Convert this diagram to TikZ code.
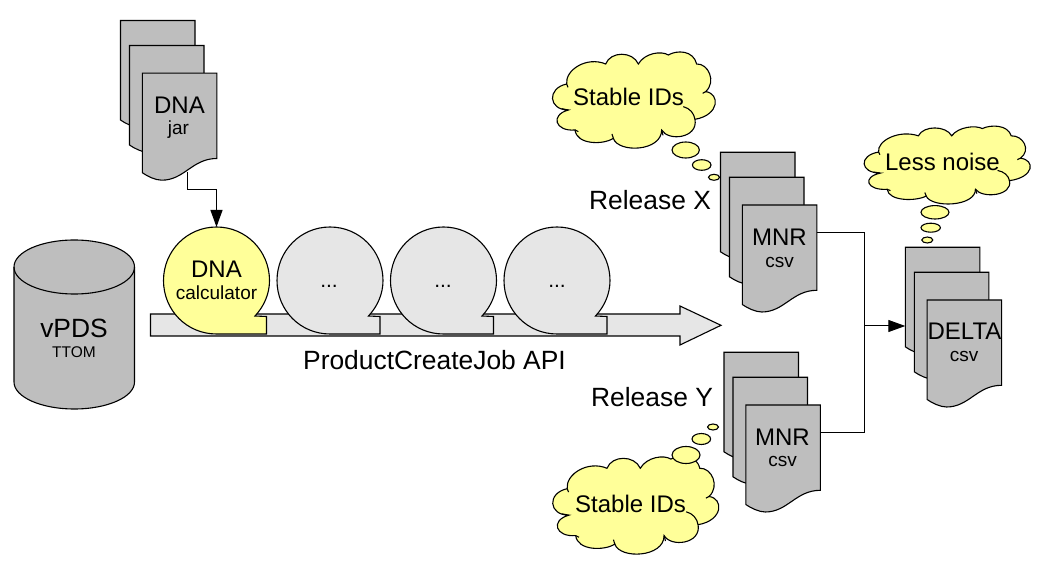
\documentclass[tikz,border=0pt]{standalone}
\usepackage{fontspec}
\setmainfont{Liberation Sans}
\usetikzlibrary{arrows.meta,calc}
\definecolor{docgrey}{HTML}{BEBEBE}
\definecolor{lightgrey}{HTML}{E6E6E6}
\definecolor{paleyellow}{HTML}{FFFF99}
\newcommand\fsize[1]{\fontsize{#1}{#1}\selectfont}
\tikzset{
  outline/.style={draw=black,line width=1.1pt,line join=miter},
  docst/.style={outline,fill=docgrey},
  bubblest/.style={outline},
  puff/.style={outline,fill=paleyellow},
  wire/.style={draw=black,line width=1pt},
  wirearrow/.style={wire,-{Triangle[length=17pt,width=12pt]}},
  big/.style={font=\fsize{24},inner sep=0pt},
  huge/.style={font=\fsize{26.4},inner sep=0pt},
  small/.style={font=\fsize{19},inner sep=0pt},
  dots/.style={font=\fsize{21},inner sep=0pt},
  docpage/.pic={
    \path[docst] (0,0) -- (74.5,0) -- (74.5,85.3)
      .. controls (50,85.3) and (42,107) .. (19.5,107)
      .. controls (13,107) and (5,103) .. (0,99.5) -- cycle;
  },
  docstack/.pic={
    \pic at (0,0) {docpage};
    \pic at (9,25) {docpage};
    \pic at (21.8,52.7) {docpage};
  },
  speech/.pic={
    \path[pic actions] (0,53.5)
      .. controls (-29.5,53.5) and (-53,30) .. (-53,0)
      .. controls (-53,-29.5) and (-29.5,-53.5) .. (0,-53.5)
      .. controls (29.5,-53.5) and (53,-29.5) .. (53,0)
      .. controls (53,13.4) and (47.6,25.7) .. (38.5,35.5)
      -- (50,36) -- (50,53.5) -- cycle;
  },
  cloudbody/.pic={
    \begin{scope}[x=0.3333pt,y=-0.3333pt]
      \path[puff] (80,102)
        .. controls (75,60) and (140,18) .. (197,42)
        .. controls (212,3) and (278,3) .. (295,42)
        .. controls (315,8) and (365,2) .. (385,15)
        .. controls (410,0) and (460,0) .. (470,42)
        .. controls (505,40) and (530,95) .. (497,125)
        .. controls (540,130) and (540,195) .. (465,208)
        .. controls (475,265) and (385,275) .. (365,240)
        .. controls (365,305) and (235,310) .. (220,265)
        .. controls (190,285) and (110,285) .. (105,240)
        .. controls (45,245) and (30,195) .. (85,180)
        .. controls (25,180) and (20,115) .. (80,102)
        -- cycle;
      \draw[outline,fill=none] (430,170) .. controls (450,175) and (462,190) .. (465,208);
      \draw[outline,fill=none] (497,125) -- (488,130);
      \draw[outline,fill=none] (365,240) -- (369,256);
      \draw[outline,fill=none] (220,265) -- (216,252);
      \draw[outline,fill=none] (105,240) -- (115,245);
      \draw[outline,fill=none] (85,180) -- (65,176);
      \draw[outline,fill=none] (80,102) -- (84,112);
    \end{scope}
  }
}
\begin{document}
\begin{tikzpicture}[x=1pt,y=-1pt]
\useasboundingbox (0,0) rectangle (1053,577);
% vPDS cylinder
\path[docst] (14,267) -- (14,382) .. controls (14,397) and (41,409) .. (74.3,409)
  .. controls (107.6,409) and (134.5,397) .. (134.5,382) -- (134.5,267)
  .. controls (134.5,252) and (107.6,240) .. (74.3,240)
  .. controls (41,240) and (14,252) .. (14,267) -- cycle;
\draw[outline] (14,267) .. controls (14,282) and (41,294) .. (74.3,294)
  .. controls (107.6,294) and (134.5,282) .. (134.5,267);
\node[huge] (vpds) at (74,328) {vPDS};
\node[font=\fsize{15.5},inner sep=0pt] (ttom) at (74,352) {TTOM};
% long arrow
\path[outline,fill=lightgrey] (150.5,314) -- (680,314) -- (680,306) -- (721,325.3)
  -- (680,345) -- (680,336) -- (150.5,336) -- cycle;
% speech bubbles
\pic[bubblest,fill=paleyellow] at (216.5,280.5) {speech};
\pic[bubblest,fill=lightgrey] at (330,280.5) {speech};
\pic[bubblest,fill=lightgrey] at (443.5,280.5) {speech};
\pic[bubblest,fill=lightgrey] at (557,280.5) {speech};
\coordinate (calctop) at (216.5,227);
\node[big] (dnacalc) at (216.5,269) {DNA};
\node[small] (calctxt) at (216.5,293) {calculator};
\node[dots] (dotsa) at (329,286.5) {...};
\node[dots] (dotsb) at (443,286.5) {...};
\node[dots] (dotsc) at (557,286.5) {...};
\node[huge] (api) at (434.5,360) {ProductCreateJob API};
% DNA jar
\pic at (120.5,20.5) {docstack};
\node[big] (dna) at (179.5,105) {DNA};
\node[small] (jar) at (178.5,130) {jar};
\coordinate (jarout) at (187.5,172);
\draw[wirearrow] (jarout) -- ++(0,18) -| (calctop);
% Release X
\pic at (720.5,152.3) {docstack};
\node[big] (mnrx) at (779.5,237) {MNR};
\node[small] (csvx) at (779.5,262) {csv};
\node[huge] (relx) at (650,200.5) {Release X};
% Release Y
\pic at (724,352.3) {docstack};
\node[big] (mnry) at (782.5,437) {MNR};
\node[small] (csvy) at (782.5,461) {csv};
\node[huge] (rely) at (652,397) {Release Y};
% DELTA
\pic at (905.3,247.3) {docstack};
\node[big] (delta) at (964.5,331) {DELTA};
\node[small] (csvd) at (964,356) {csv};
% clouds
\pic at (540,50) {cloudbody};
\node[big] (stablex) at (628.5,97) {Stable IDs};
\path[puff] (685.7,150) ellipse [x radius=13.7,y radius=8];
\path[puff] (701.7,165) ellipse [x radius=9.3,y radius=5.3];
\path[puff] (714,177.3) ellipse [x radius=5.5,y radius=3];
\pic[xscale=1.02,yscale=1.02] at (540,454) {cloudbody};
\node[big] (stabley) at (630.5,503.5) {Stable IDs};
\path[puff] (686,455) ellipse [x radius=14,y radius=8.5];
\path[puff] (701.3,439) ellipse [x radius=9.3,y radius=5.5];
\path[puff] (713,427) ellipse [x radius=5.5,y radius=3];
\pic[xscale=1.02,yscale=0.81] at (851.4,124.5) {cloudbody};
\node[big] (noise) at (942.5,162) {Less noise};
\path[puff] (935,212.3) ellipse [x radius=14,y radius=6.7];
\path[puff] (930.7,227.7) ellipse [x radius=9.7,y radius=4.5];
\path[puff] (927.3,240) ellipse [x radius=5.5,y radius=3];
% connectors
\coordinate (mnrxout) at (816.5,232.5);
\coordinate (mnryout) at (820,432.3);
\coordinate (joint) at (864.3,326);
\coordinate (deltain) at (905.3,326);
\draw[wire] (mnrxout) -| (joint);
\draw[wire] (mnryout) -| (joint);
\draw[wirearrow] (joint) -- (deltain);
\end{tikzpicture}
\end{document}
